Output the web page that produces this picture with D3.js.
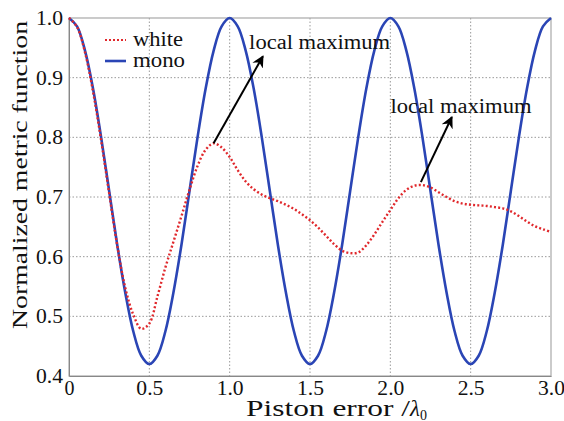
<!DOCTYPE html>
<html>
<head>
<meta charset="utf-8">
<script src="https://cdn.jsdelivr.net/npm/d3@7"></script>
<style>
  body { margin: 0; background: #fff; }
  text { font-family: "Liberation Serif", "Times New Roman", serif; fill: #111; }
</style>
</head>
<body>
<script>
// piston error samples, every 0.05 wave
var pistonError = [0, 0.05, 0.1, 0.15, 0.2, 0.25, 0.3, 0.35, 0.4, 0.45, 0.5,
  0.55, 0.6, 0.65, 0.7, 0.75, 0.8, 0.85, 0.9, 0.95, 1.0,
  1.05, 1.1, 1.15, 1.2, 1.25, 1.3, 1.35, 1.4, 1.45, 1.5,
  1.55, 1.6, 1.65, 1.7, 1.75, 1.8, 1.85, 1.9, 1.95, 2.0,
  2.05, 2.1, 2.15, 2.2, 2.25, 2.3, 2.35, 2.4, 2.45, 2.5,
  2.55, 2.6, 2.65, 2.7, 2.75, 2.8, 2.85, 2.9, 2.95, 3.0];

var whiteValues = [1.0, 0.985, 0.942, 0.876, 0.795, 0.706, 0.619, 0.548, 0.503, 0.479, 0.488,
  0.533, 0.582, 0.625, 0.668, 0.712, 0.752, 0.779, 0.79, 0.783, 0.767,
  0.745, 0.726, 0.713, 0.704, 0.698, 0.693, 0.687, 0.68, 0.671, 0.661,
  0.649, 0.635, 0.621, 0.61, 0.606, 0.607, 0.619, 0.637, 0.658, 0.678,
  0.698, 0.712, 0.719, 0.72, 0.716, 0.708, 0.7, 0.693, 0.689, 0.687,
  0.686, 0.685, 0.683, 0.681, 0.676, 0.668, 0.659, 0.651, 0.646, 0.641];

var monoValues = [1.0, 0.986, 0.945, 0.881, 0.8, 0.71, 0.62, 0.54, 0.475, 0.434, 0.42,
  0.434, 0.475, 0.54, 0.62, 0.71, 0.8, 0.881, 0.945, 0.986, 1.0,
  0.986, 0.945, 0.881, 0.8, 0.71, 0.62, 0.54, 0.475, 0.434, 0.42,
  0.434, 0.475, 0.54, 0.62, 0.71, 0.8, 0.881, 0.945, 0.986, 1.0,
  0.986, 0.945, 0.881, 0.8, 0.71, 0.62, 0.54, 0.475, 0.434, 0.42,
  0.434, 0.475, 0.54, 0.62, 0.71, 0.8, 0.881, 0.945, 0.986, 1.0];

var xTicks = [0, 0.5, 1.0, 1.5, 2.0, 2.5, 3.0];
var xTickLabels = ["0", "0.5", "1.0", "1.5", "2.0", "2.5", "3.0"];
var yTicks = [0.4, 0.5, 0.6, 0.7, 0.8, 0.9, 1.0];
var yTickLabels = ["0.4", "0.5", "0.6", "0.7", "0.8", "0.9", "1.0"];

// arrow tail on the curve, arrow head, and label anchor, in data units
var annotations = [
  {label: "local maximum", tail: [0.9, 0.79], head: [1.207, 0.936], at: [1.56, 0.948]},
  {label: "local maximum", tail: [2.19, 0.725], head: [2.383, 0.834], at: [2.44, 0.841]}
];

var serif = '"Liberation Serif", "Times New Roman", serif';

var margin = {top: 18, right: 13, bottom: 45, left: 69},
    width = 564 - margin.left - margin.right,
    height = 421 - margin.top - margin.bottom;

var svg = d3.select("body")
            .append("svg")
            .attr("width", 564)
            .attr("height", 421)
            .append("g")
            .attr("transform", "translate(" + margin.left + "," + margin.top + ")");

var xScale = d3.scaleLinear().domain([0, 3]).range([0, width]);
var yScale = d3.scaleLinear().domain([0.4, 1.0]).range([height, 0]);

// dotted grid
svg.append("g")
   .selectAll("line.vgrid")
   .data(xTicks.slice(1, -1))
   .enter()
   .append("line")
   .attr("x1", function(d) {return xScale(d);})
   .attr("x2", function(d) {return xScale(d);})
   .attr("y1", 0)
   .attr("y2", height)
   .attr("stroke", "#9a9a9a")
   .attr("stroke-width", 1)
   .attr("stroke-dasharray", "1.5,2");

svg.append("g")
   .selectAll("line.hgrid")
   .data(yTicks.slice(1, -1))
   .enter()
   .append("line")
   .attr("x1", 0)
   .attr("x2", width)
   .attr("y1", function(d) {return yScale(d);})
   .attr("y2", function(d) {return yScale(d);})
   .attr("stroke", "#9a9a9a")
   .attr("stroke-width", 1)
   .attr("stroke-dasharray", "1.5,2");

// frame
svg.append("rect")
   .attr("width", width)
   .attr("height", height)
   .attr("fill", "none")
   .attr("stroke", "#a8a8a8")
   .attr("stroke-width", 1.2);

// axes
var xAxis = svg.append("g")
   .attr("transform", "translate(0," + height + ")")
   .call(d3.axisBottom(xScale)
           .tickValues(xTicks)
           .tickSize(0)
           .tickPadding(5)
           .tickFormat(function(d, i) {return xTickLabels[i];}))
   .attr("font-family", serif)
   .attr("font-size", 20);
xAxis.select(".domain").attr("stroke", "#888");
xAxis.selectAll("text")
     .attr("fill", "#111")
     .attr("textLength", function(d, i) {return xTickLabels[i].length > 1 ? 27 : null;})
     .attr("lengthAdjust", "spacingAndGlyphs");

var yAxis = svg.append("g")
   .call(d3.axisLeft(yScale)
           .tickValues(yTicks)
           .tickSize(0)
           .tickPadding(6)
           .tickFormat(function(d, i) {return yTickLabels[i];}))
   .attr("font-family", serif)
   .attr("font-size", 20);
yAxis.select(".domain").attr("stroke", "#888");
yAxis.selectAll("text")
     .attr("fill", "#111")
     .attr("textLength", 27)
     .attr("lengthAdjust", "spacingAndGlyphs");

// curves
var whiteData = pistonError.map(function(x, i) {return {x: x, y: whiteValues[i]};});
var monoData = pistonError.map(function(x, i) {return {x: x, y: monoValues[i]};});

var line = d3.line()
             .x(function(d) {return xScale(d.x);})
             .y(function(d) {return yScale(d.y);})
             .curve(d3.curveCatmullRom);

svg.append("path")
   .datum(monoData)
   .attr("d", line)
   .attr("fill", "none")
   .attr("stroke", "#2a45b5")
   .attr("stroke-width", 2.6);

svg.append("path")
   .datum(whiteData)
   .attr("d", line)
   .attr("fill", "none")
   .attr("stroke", "#e0282c")
   .attr("stroke-width", 2.4)
   .attr("stroke-dasharray", "2,2.2");

// arrows
svg.append("defs")
   .append("marker")
   .attr("id", "arrowhead")
   .attr("viewBox", "0 0 10 10")
   .attr("refX", 9)
   .attr("refY", 5)
   .attr("markerWidth", 6)
   .attr("markerHeight", 6)
   .attr("markerUnits", "strokeWidth")
   .attr("orient", "auto")
   .append("path")
   .attr("d", "M0,0 L10,5 L0,10 L3,5 z")
   .attr("fill", "#000");

annotations.forEach(function(a) {
  svg.append("line")
     .attr("x1", xScale(a.tail[0]))
     .attr("y1", yScale(a.tail[1]))
     .attr("x2", xScale(a.head[0]))
     .attr("y2", yScale(a.head[1]))
     .attr("stroke", "#000")
     .attr("stroke-width", 2)
     .attr("marker-end", "url(#arrowhead)");
  svg.append("text")
     .attr("x", xScale(a.at[0]))
     .attr("y", yScale(a.at[1]))
     .style("text-anchor", "middle")
     .style("font-size", "20px")
     .attr("textLength", 141)
     .attr("lengthAdjust", "spacingAndGlyphs")
     .text(a.label);
});

// legend
var legend = svg.append("g").attr("transform", "translate(36,22)");
legend.append("line")
      .attr("x1", 0).attr("x2", 21).attr("y1", 0).attr("y2", 0)
      .attr("stroke", "#e0282c").attr("stroke-width", 2.2).attr("stroke-dasharray", "2,2");
legend.append("text").attr("x", 28).attr("y", 6).style("font-size", "20px")
      .attr("textLength", 50).attr("lengthAdjust", "spacingAndGlyphs").text("white");
legend.append("line")
      .attr("x1", 0).attr("x2", 21).attr("y1", 21).attr("y2", 21)
      .attr("stroke", "#2a45b5").attr("stroke-width", 2.6);
legend.append("text").attr("x", 28).attr("y", 27).style("font-size", "20px")
      .attr("textLength", 52).attr("lengthAdjust", "spacingAndGlyphs").text("mono");

// axis titles
var xTitle = svg.append("text")
   .attr("x", 177)
   .attr("y", height + 40)
   .style("font-size", "23px");
xTitle.append("tspan")
      .attr("textLength", 164)
      .attr("lengthAdjust", "spacingAndGlyphs")
      .text("Piston error /");
xTitle.append("tspan").style("font-style", "italic").text("λ");
xTitle.append("tspan").attr("dy", 4).style("font-size", "14px").text("0");

svg.append("text")
   .attr("transform", "rotate(-90)")
   .attr("x", -157)
   .attr("y", -42)
   .style("text-anchor", "middle")
   .style("font-size", "20px")
   .attr("textLength", 308)
   .attr("lengthAdjust", "spacingAndGlyphs")
   .text("Normalized metric function");
</script>
</body>
</html>
